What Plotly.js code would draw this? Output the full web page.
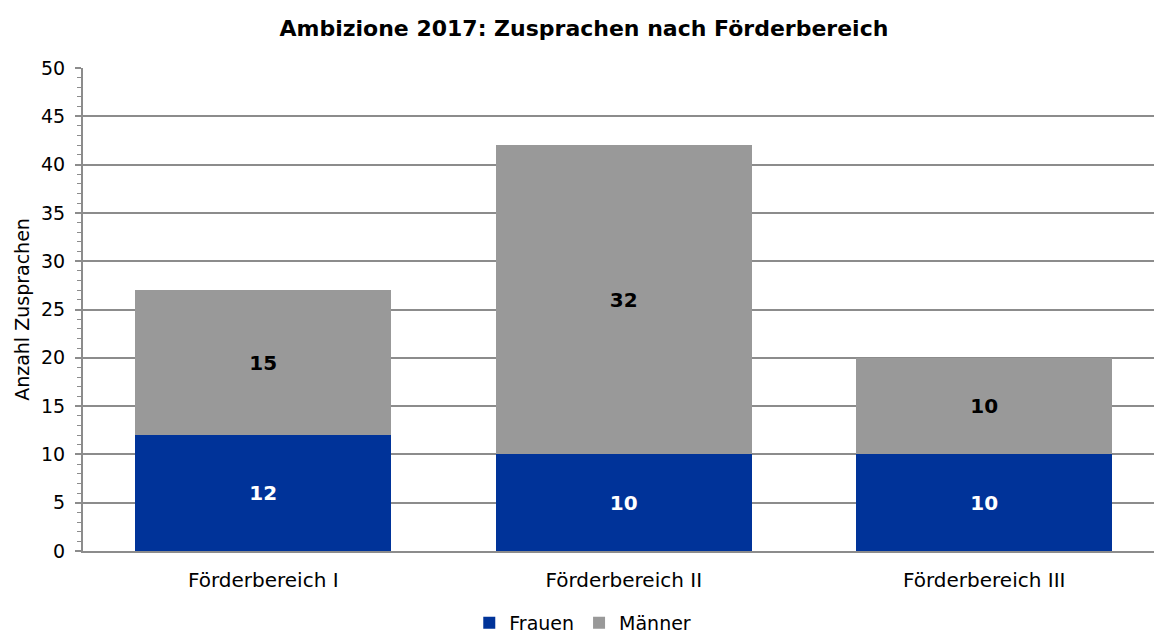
<!DOCTYPE html>
<html>
<head>
<meta charset="utf-8">
<script src="https://cdn.plot.ly/plotly-3.0.1.min.js"></script>
<style>html,body{margin:0;padding:0;background:#fff;}#chart{width:1154px;height:635px;}</style>
</head>
<body>
<div id="chart"></div>
<script>
const categories = ["Förderbereich I", "Förderbereich II", "Förderbereich III"];
const frauen = [12, 10, 10];
const maenner = [15, 32, 10];
const seriesNames = ["Frauen", "Männer"];
const yTicks = [0, 5, 10, 15, 20, 25, 30, 35, 40, 45, 50];

const FONT = "DejaVu Sans, Verdana, sans-serif";

const traces = [
  {
    type: "bar", name: seriesNames[0], x: categories, y: frauen,
    marker: {color: "#003399"}, width: 0.71,
    text: frauen.map(String), textposition: "inside", insidetextanchor: "middle",
    textfont: {family: FONT, size: 20, color: "#ffffff", weight: "bold"},
    hoverinfo: "x+y+name"
  },
  {
    type: "bar", name: seriesNames[1], x: categories, y: maenner,
    marker: {color: "#999999"}, width: 0.71,
    text: maenner.map(String), textposition: "inside", insidetextanchor: "middle",
    textfont: {family: FONT, size: 20, color: "#000000", weight: "bold"},
    hoverinfo: "x+y+name"
  }
];

const layout = {
  width: 1154, height: 635,
  barmode: "stack",
  paper_bgcolor: "#ffffff", plot_bgcolor: "#ffffff",
  margin: {l: 83, r: 0, t: 68, b: 84},
  font: {family: FONT, size: 18, color: "#000000"},
  title: {
    text: "<b>Ambizione 2017: Zusprachen nach Förderbereich</b>",
    font: {family: FONT, size: 22, color: "#000"},
    xref: "container", x: 0.506, xanchor: "center",
    yref: "container", y: 0.955, yanchor: "middle"
  },
  xaxis: {
    range: [-0.5, 2.471],
    showgrid: false, zeroline: false,
    showline: true, linecolor: "#8c8c8c", linewidth: 2,
    ticks: "outside", ticklen: 10, tickcolor: "rgba(0,0,0,0)",
    tickfont: {family: FONT, size: 20, color: "#000"}
  },
  yaxis: {
    range: [0, 50], tickvals: yTicks,
    showgrid: true, gridcolor: "#8c8c8c", gridwidth: 2,
    zeroline: false,
    showline: true, linecolor: "#8c8c8c", linewidth: 2,
    ticks: "outside", ticklen: 6, tickcolor: "#8c8c8c", tickwidth: 2,
    ticklabelstandoff: 6,
    minor: {dtick: 1, ticks: "outside", ticklen: 4, tickcolor: "#8c8c8c", tickwidth: 1, showgrid: false},
    tickfont: {family: FONT, size: 19, color: "#000"},
    title: {text: "Anzahl Zusprachen", font: {family: FONT, size: 19, color: "#000"}, standoff: 6}
  },
  legend: {
    orientation: "h",
    xref: "container", x: 0.505, xanchor: "center",
    yref: "container", y: 0.019, yanchor: "middle",
    font: {family: FONT, size: 19, color: "#000"},
    itemwidth: 30, traceorder: "normal"
  },
  showlegend: true
};

Plotly.newPlot("chart", traces, layout, {displayModeBar: false, responsive: false});
</script>
</body>
</html>
